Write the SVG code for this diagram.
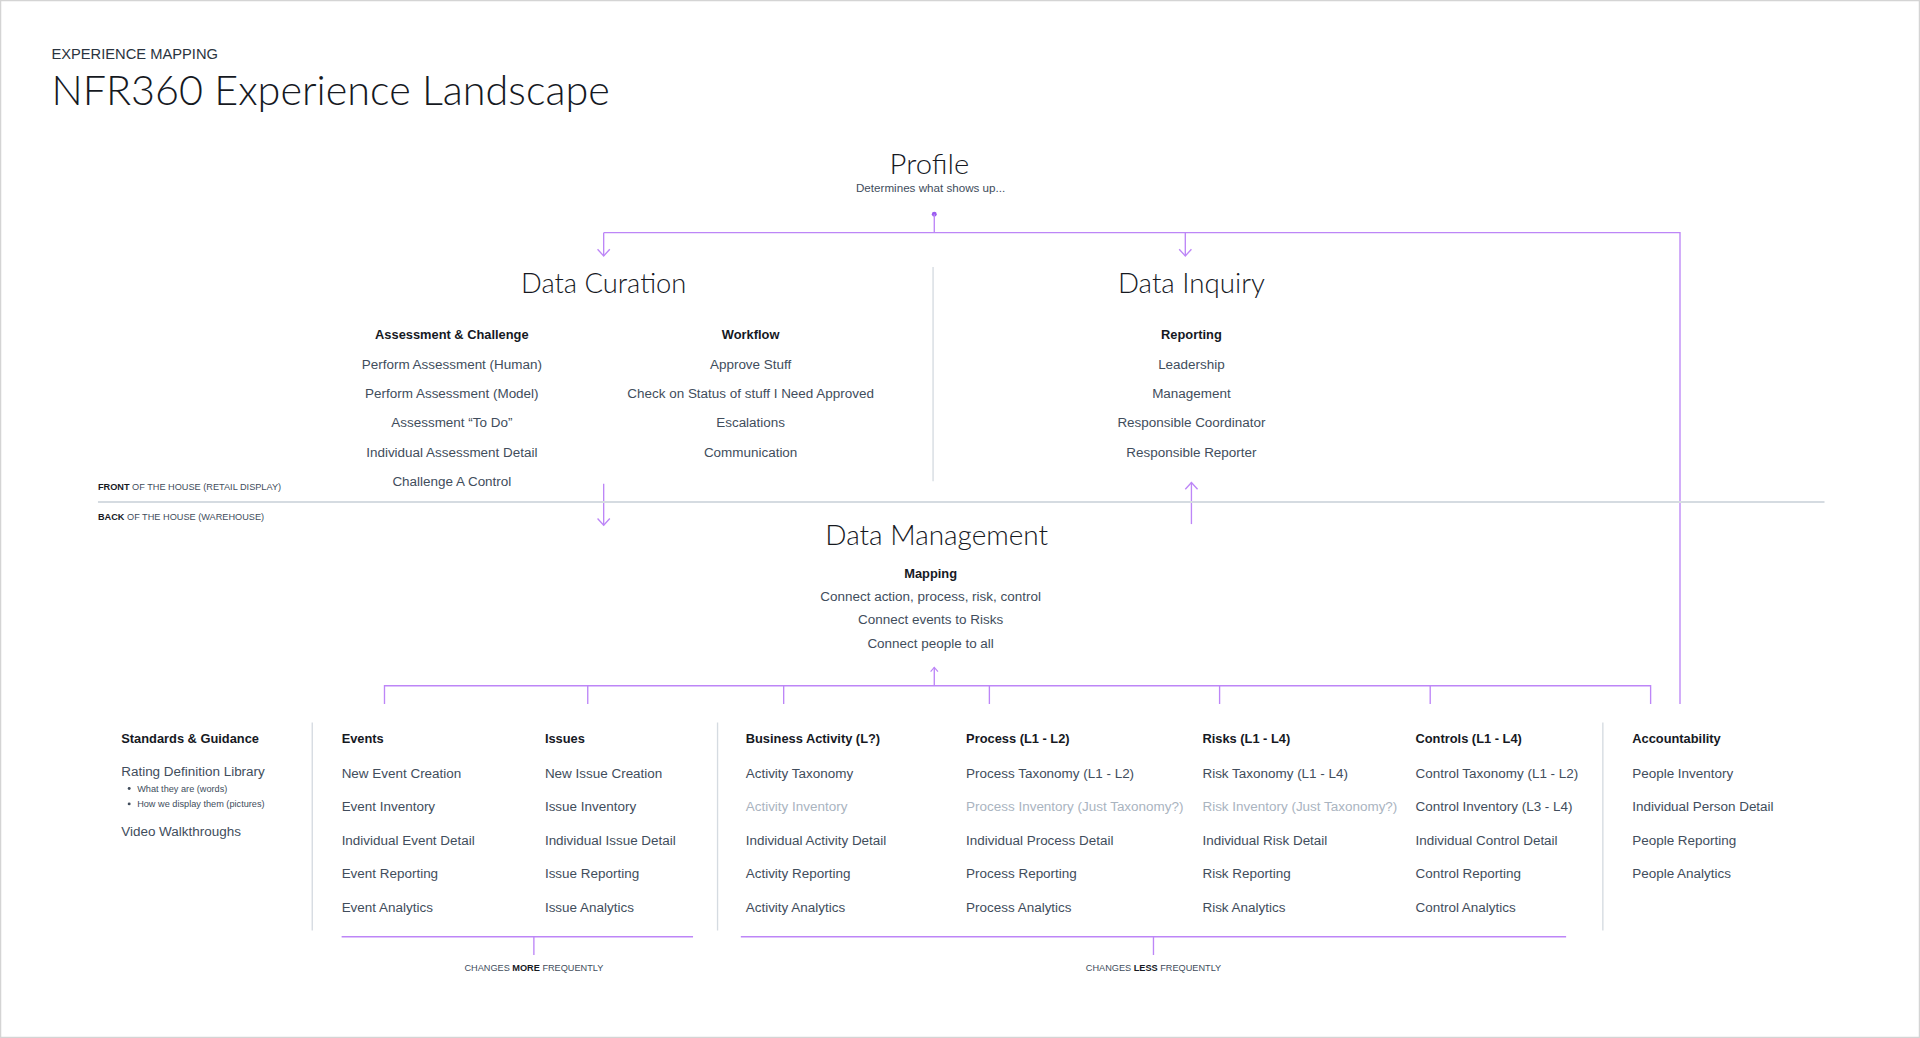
<svg xmlns="http://www.w3.org/2000/svg" width="1920" height="1038" viewBox="0 0 1920 1038">
<style>
text{font-family:"Liberation Sans",Arial,sans-serif;fill:#414d5c}
.t{fill:#16191f}
.lt{font-family:Lato,"Liberation Sans",sans-serif;font-weight:300}
.big{font-size:22px;fill:#16191f}
.h{font-size:10.5px;font-weight:bold;fill:#16191f}
.i{font-size:11px}
.c{text-anchor:middle}
.g{fill:#aab4bf}
.s{font-size:7.5px;fill:#414d5c}
.sb{font-weight:bold;fill:#16191f}
.p{stroke:#bd86f7;stroke-width:1.1;fill:none}
.d{stroke:#d5dbe1;stroke-width:1.1;fill:none}
</style>
<defs>
<marker id="ah" markerUnits="userSpaceOnUse" viewBox="0 0 8 12" markerWidth="8" markerHeight="12" refX="6.5" refY="6" orient="auto">
<path d="M1,1 L6.5,6 L1,11" fill="none" stroke="#bd86f7" stroke-width="1.1"/>
</marker>
<marker id="ahs" markerUnits="userSpaceOnUse" viewBox="0 0 6 8" markerWidth="6" markerHeight="8" refX="4.5" refY="4" orient="auto">
<path d="M1,1 L4.5,4 L1,7" fill="none" stroke="#bd86f7" stroke-width="1"/>
</marker>
</defs>
<rect x="0.5" y="0.5" width="1919" height="1037" fill="#ffffff" stroke="#d4d4d4" stroke-width="1.5"/>
<g transform="scale(1.2244898)">
<g id="header">
<text x="42" y="48" style="font-size:12px;fill:#2a3440">EXPERIENCE MAPPING</text>
<text x="42" y="86" class="t lt" style="font-size:33px" textLength="456" lengthAdjust="spacingAndGlyphs">NFR360 Experience Landscape</text>
</g>
<g id="connectors">
<circle cx="763" cy="175" r="2" fill="#9a5cf0"/>
<path class="p" d="M763,175 V190 M493,190 H1372 V575"/>
<path class="p" d="M493,190 V209" marker-end="url(#ah)"/>
<path class="p" d="M968,190 V209" marker-end="url(#ah)"/>
<path class="p" d="M493,395 V429" marker-end="url(#ah)"/>
<path class="p" d="M973,428 V394" marker-end="url(#ah)"/>
<path class="p" d="M763,560 V545" marker-end="url(#ahs)"/>
<path class="p" d="M314,575 V560 H1348 V575 M480,560 V575 M640,560 V575 M808,560 V575 M996,560 V575 M1168,560 V575"/>
<path class="p" d="M279,765 H566 M436,765 V780"/>
<path class="p" d="M605,765 H1279 M942,765 V780"/>
</g>
<g id="dividers">
<path class="d" d="M762,218 V393"/>
<path class="d" style="stroke-width:1.5" d="M80,410 H1490"/>
<path class="d" d="M255,590 V760 M586,590 V760 M1309,590 V760"/>
</g>
<g id="profile">
<text x="759" y="142" class="big c lt" textLength="65" lengthAdjust="spacingAndGlyphs">Profile</text>
<text x="760" y="157" class="c" style="font-size:9.5px">Determines what shows up...</text>
</g>
<g id="data-curation">
<text x="493" y="239" class="big c lt" textLength="135" lengthAdjust="spacingAndGlyphs">Data Curation</text>
<text x="369" y="277" class="h c">Assessment &amp; Challenge</text>
<text x="369" y="301" class="i c">Perform Assessment (Human)</text>
<text x="369" y="325" class="i c">Perform Assessment (Model)</text>
<text x="369" y="349" class="i c">Assessment “To Do”</text>
<text x="369" y="373" class="i c">Individual Assessment Detail</text>
<text x="369" y="397" class="i c">Challenge A Control</text>
<text x="613" y="277" class="h c">Workflow</text>
<text x="613" y="301" class="i c">Approve Stuff</text>
<text x="613" y="325" class="i c">Check on Status of stuff I Need Approved</text>
<text x="613" y="349" class="i c">Escalations</text>
<text x="613" y="373" class="i c">Communication</text>
</g>
<g id="data-inquiry">
<text x="973" y="239" class="big c lt" textLength="120" lengthAdjust="spacingAndGlyphs">Data Inquiry</text>
<text x="973" y="277" class="h c">Reporting</text>
<text x="973" y="301" class="i c">Leadership</text>
<text x="973" y="325" class="i c">Management</text>
<text x="973" y="349" class="i c">Responsible Coordinator</text>
<text x="973" y="373" class="i c">Responsible Reporter</text>
</g>
<g id="house-labels">
<text x="80" y="400" class="s"><tspan class="sb">FRONT</tspan> OF THE HOUSE (RETAIL DISPLAY)</text>
<text x="80" y="425" class="s"><tspan class="sb">BACK</tspan> OF THE HOUSE (WAREHOUSE)</text>
</g>
<g id="data-management">
<text x="765" y="445" class="big c lt" textLength="182" lengthAdjust="spacingAndGlyphs">Data Management</text>
<text x="760" y="472" class="h c">Mapping</text>
<text x="760" y="491" class="i c">Connect action, process, risk, control</text>
<text x="760" y="510" class="i c">Connect events to Risks</text>
<text x="760" y="529" class="i c">Connect people to all</text>
</g>
<g id="standards">
<text x="99" y="607" class="h">Standards &amp; Guidance</text>
<text x="99" y="634" class="i">Rating Definition Library</text>
<circle cx="105.5" cy="644" r="1.2" fill="#414d5c"/>
<text x="112" y="646.5" class="s">What they are (words)</text>
<circle cx="105.5" cy="656.5" r="1.2" fill="#414d5c"/>
<text x="112" y="659" class="s">How we display them (pictures)</text>
<text x="99" y="682.5" class="i">Video Walkthroughs</text>
</g>
<g id="events">
<text x="279" y="607" class="h">Events</text>
<text x="279" y="635" class="i">New Event Creation</text>
<text x="279" y="662" class="i">Event Inventory</text>
<text x="279" y="690" class="i">Individual Event Detail</text>
<text x="279" y="717" class="i">Event Reporting</text>
<text x="279" y="745" class="i">Event Analytics</text>
</g>
<g id="issues">
<text x="445" y="607" class="h">Issues</text>
<text x="445" y="635" class="i">New Issue Creation</text>
<text x="445" y="662" class="i">Issue Inventory</text>
<text x="445" y="690" class="i">Individual Issue Detail</text>
<text x="445" y="717" class="i">Issue Reporting</text>
<text x="445" y="745" class="i">Issue Analytics</text>
</g>
<g id="business-activity">
<text x="609" y="607" class="h">Business Activity (L?)</text>
<text x="609" y="635" class="i">Activity Taxonomy</text>
<text x="609" y="662" class="i g">Activity Inventory</text>
<text x="609" y="690" class="i">Individual Activity Detail</text>
<text x="609" y="717" class="i">Activity Reporting</text>
<text x="609" y="745" class="i">Activity Analytics</text>
</g>
<g id="process">
<text x="789" y="607" class="h">Process (L1 - L2)</text>
<text x="789" y="635" class="i">Process Taxonomy (L1 - L2)</text>
<text x="789" y="662" class="i g">Process Inventory (Just Taxonomy?)</text>
<text x="789" y="690" class="i">Individual Process Detail</text>
<text x="789" y="717" class="i">Process Reporting</text>
<text x="789" y="745" class="i">Process Analytics</text>
</g>
<g id="risks">
<text x="982" y="607" class="h">Risks (L1 - L4)</text>
<text x="982" y="635" class="i">Risk Taxonomy (L1 - L4)</text>
<text x="982" y="662" class="i g">Risk Inventory (Just Taxonomy?)</text>
<text x="982" y="690" class="i">Individual Risk Detail</text>
<text x="982" y="717" class="i">Risk Reporting</text>
<text x="982" y="745" class="i">Risk Analytics</text>
</g>
<g id="controls">
<text x="1156" y="607" class="h">Controls (L1 - L4)</text>
<text x="1156" y="635" class="i">Control Taxonomy (L1 - L2)</text>
<text x="1156" y="662" class="i">Control Inventory (L3 - L4)</text>
<text x="1156" y="690" class="i">Individual Control Detail</text>
<text x="1156" y="717" class="i">Control Reporting</text>
<text x="1156" y="745" class="i">Control Analytics</text>
</g>
<g id="accountability">
<text x="1333" y="607" class="h">Accountability</text>
<text x="1333" y="635" class="i">People Inventory</text>
<text x="1333" y="662" class="i">Individual Person Detail</text>
<text x="1333" y="690" class="i">People Reporting</text>
<text x="1333" y="717" class="i">People Analytics</text>
</g>
<g id="frequency-labels">
<text x="436" y="793" class="s c">CHANGES <tspan class="sb">MORE</tspan> FREQUENTLY</text>
<text x="942" y="793" class="s c">CHANGES <tspan class="sb">LESS</tspan> FREQUENTLY</text>
</g>
</g>
</svg>
